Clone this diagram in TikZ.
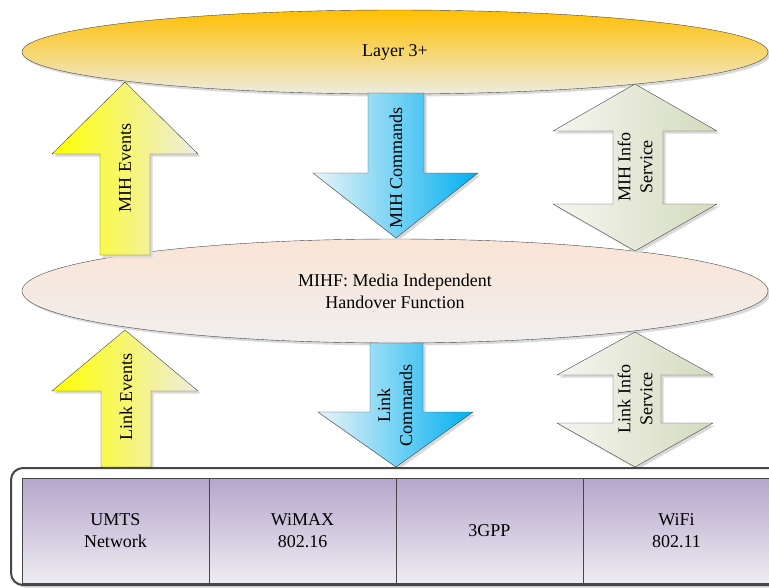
\documentclass[tikz,border=0pt]{standalone}
\usepackage{fontspec}
\setmainfont{Liberation Serif}
\usetikzlibrary{shapes.geometric,positioning,shadows}

\definecolor{layerorange}{RGB}{255,192,0}
\definecolor{tanbg}{RGB}{238,236,225}
\definecolor{mihfpeach}{RGB}{250,228,214}
\definecolor{mihfgray}{RGB}{240,239,237}
\definecolor{evyellow}{RGB}{255,255,0}
\definecolor{cmdblue}{RGB}{0,176,240}
\definecolor{cmdlight}{RGB}{234,244,248}
\definecolor{infoolive}{RGB}{212,219,190}
\definecolor{infolight}{RGB}{245,245,240}
\definecolor{netpurple}{RGB}{181,166,203}
\definecolor{netlight}{RGB}{238,236,242}
\definecolor{edgegray}{RGB}{70,70,70}

\tikzset{
  txt/.style={font=\fontsize{18}{22}\selectfont, align=center},
  softshadow/.style={drop shadow={shadow xshift=2.5pt,shadow yshift=-2.5pt,fill=black!15,opacity=1}},
  layerbox/.style={ellipse, draw=edgegray, inner sep=0pt, softshadow, txt},
  eventarrow/.style={draw=edgegray, left color=evyellow, right color=tanbg, softshadow},
  cmdarrow/.style={draw=edgegray, left color=cmdlight, right color=cmdblue, softshadow},
  infoarrow/.style={draw=edgegray, left color=infolight, right color=infoolive, softshadow},
  netcell/.style={rectangle, draw=edgegray, top color=netpurple, bottom color=netlight,
    minimum width=187pt, minimum height=105pt, inner sep=0pt, outer sep=0pt, txt}
}

\begin{document}
\begin{tikzpicture}[x=1pt,y=-1pt]
\useasboundingbox (0,0) rectangle (769,587);

\node[layerbox, top color=layerorange, bottom color=tanbg,
  minimum width=746pt, minimum height=84pt] (layer) at (395,52) {Layer 3+};
\node[layerbox, top color=mihfpeach, bottom color=mihfgray,
  minimum width=746pt, minimum height=104pt] (mihf) at (395,291)
  {MIHF: Media Independent\\Handover Function};

\path[eventarrow] (125,82) -- (198,154) -- (150,154) -- (150,255) -- (100,255) -- (100,154) -- (52,154) -- cycle;
\node[txt, rotate=90] (mihev) at (125,168) {MIH Events};

\path[cmdarrow] (368,93) -- (424,93) -- (424,173) -- (478,173) -- (396,238) -- (313,173) -- (368,173) -- cycle;
\node[txt, rotate=90] (mihcmd) at (396,168) {MIH Commands};

\path[infoarrow] (635,84) -- (717,131) -- (663,131) -- (663,204) -- (717,204) -- (635,251)
  -- (553,204) -- (613,204) -- (613,131) -- (553,131) -- cycle;
\node[txt, rotate=90] (mihinfo) at (635,167) {MIH Info\\Service};

\path[eventarrow] (125,330) -- (198,391) -- (151,391) -- (151,467) -- (101,467) -- (101,391) -- (52,391) -- cycle;
\node[txt, rotate=90] (linkev) at (126,397) {Link Events};

\path[cmdarrow] (370,343) -- (423,343) -- (423,412) -- (473,412) -- (396,467) -- (318,412) -- (370,412) -- cycle;
\node[txt, rotate=90] (linkcmd) at (395,405) {Link\\Commands};

\path[infoarrow] (635,332) -- (713,375) -- (661,375) -- (661,423) -- (713,423) -- (635,467)
  -- (557,423) -- (613,423) -- (613,375) -- (557,375) -- cycle;
\node[txt, rotate=90] (linkinfo) at (635,399) {Link Info\\Service};

\draw[edgegray, line width=2pt, rounded corners=12pt, fill=white, softshadow] (11,468) rectangle (781,585);

\node[netcell] (umts) at (115.5,530.5) {UMTS\\Network};
\node[netcell, right=0pt of umts] (wimax) {WiMAX\\802.16};
\node[netcell, right=0pt of wimax] (tgpp) {3GPP};
\node[netcell, right=0pt of tgpp] (wifi) {WiFi\\802.11};
\end{tikzpicture}
\end{document}
